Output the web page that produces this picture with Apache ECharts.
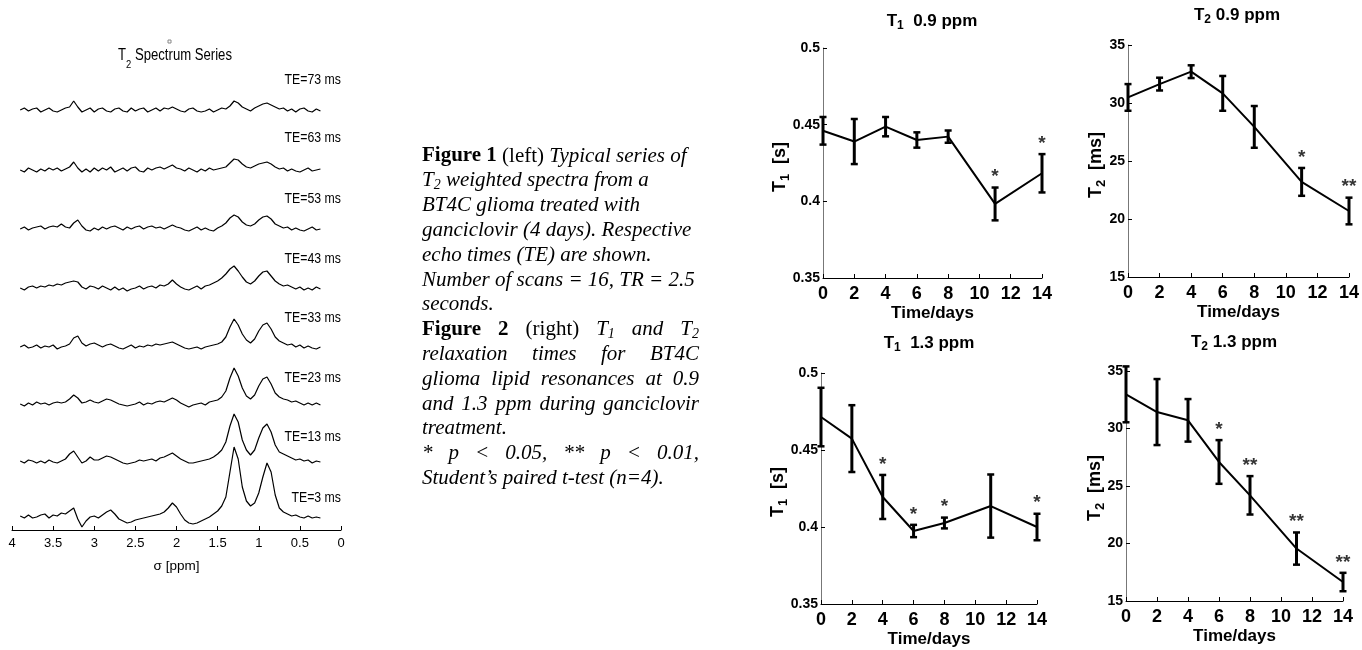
<!DOCTYPE html>
<html><head><meta charset="utf-8">
<script src="https://cdn.jsdelivr.net/npm/echarts@6/dist/echarts.min.js"></script>
<style>html,body{margin:0;padding:0;background:#fff}#c{width:1362px;height:650px}</style>
</head><body><div id="c"></div>
<script>
// ================= DATA =================
// Spectrum sample positions (ppm)
const ppm = [3.90,3.85,3.80,3.75,3.70,3.65,3.60,3.55,3.50,3.45,
 3.40,3.35,3.30,3.25,3.20,3.15,3.10,3.05,3.00,2.95,
 2.90,2.85,2.80,2.75,2.70,2.65,2.60,2.55,2.50,2.45,
 2.40,2.35,2.30,2.25,2.20,2.15,2.10,2.05,2.00,1.95,
 1.90,1.85,1.80,1.75,1.70,1.65,1.60,1.55,1.50,1.45,
 1.40,1.35,1.30,1.25,1.20,1.15,1.10,1.05,1.00,0.95,
 0.90,0.85,0.80,0.75,0.70,0.65,0.60,0.55,0.50,0.45,
 0.40,0.35,0.30,0.25];
const teLabels = ['TE=73 ms','TE=63 ms','TE=53 ms','TE=43 ms','TE=33 ms','TE=23 ms','TE=13 ms','TE=3 ms'];
// Signal intensity (arbitrary units, relative to each trace's baseline)
const spec73 = [0,2,-1,1,2,-2,0,2,-1,-2, 0,2,3,9,3,-2,0,2,-2,1, 2,-1,-2,1,2,-1,-2,2,-1,1, 2,-2,0,2,-1,2,1,3,1,-1,
 -2,1,2,-1,-2,-1,1,-2,0,2, 1,4,9,7,3,1,-1,2,4,6, 7,5,3,1,2,-1,1,-2,1,2, -1,-2,1,-1];
const spec63 = [0,-2,2,0,-2,1,-1,2,0,2, -1,1,3,8,2,-2,1,-2,2,-1, 2,0,3,-2,0,2,-1,2,3,-1, -2,2,0,2,3,1,3,5,2,1,
 -1,2,0,-2,1,-1,2,0,1,2, 3,7,11,10,6,3,2,4,6,7, 8,6,3,1,2,-1,1,-1,-2,0, 2,-1,0,1];
const spec53 = [0,2,-1,1,2,3,0,2,3,2, 5,2,1,6,9,3,-1,-2,1,-1, 2,0,2,3,1,-1,2,0,2,3, 0,2,3,1,2,0,2,4,2,1,
 -1,-2,0,2,-1,1,-1,-2,1,3, 6,11,14,12,7,4,3,5,9,12, 13,10,5,3,1,2,-1,1,-1,-2, 0,2,-1,0];
const spec43 = [0,-2,1,2,0,2,1,3,2,4, 3,5,6,7,6,1,-1,2,1,-1, 2,0,-2,1,-2,0,-3,-1,0,2, -1,1,2,0,3,2,4,8,4,1,
 -1,-2,0,2,-1,2,3,5,7,10, 14,19,22,17,11,6,4,7,12,16, 17,12,7,4,2,3,1,-1,1,-2, 0,-2,1,-1];
const spec33 = [0,2,-1,0,2,-1,1,0,2,-2, 0,1,3,9,11,4,1,3,4,2, 0,2,3,1,-1,-2,0,2,-1,1, 0,2,1,3,2,3,4,5,3,1,
 -1,-2,-1,0,-2,0,1,2,3,5, 10,20,28,22,13,7,4,8,16,22, 24,18,10,6,4,2,3,0,2,-1, 1,-1,-2,0];
const spec23 = [0,-2,1,-1,2,0,1,-1,1,2, 1,2,5,9,6,1,2,4,2,1, 3,5,4,2,0,-1,-2,-1,0,2, -1,1,0,2,3,2,4,6,4,1,
 -1,-3,-1,0,1,-1,2,3,4,7, 13,26,36,28,16,8,5,9,18,25, 27,20,11,7,5,4,2,3,1,-1, 1,-1,1,-1];
const spec13 = [1,-1,2,1,-1,1,-1,2,0,-1, 1,3,8,11,5,-1,1,5,2,2, 4,6,5,3,1,-1,-2,-1,0,2, 1,2,3,1,4,5,7,9,6,3,
 1,-1,-1,0,1,2,3,5,8,12, 20,36,48,40,22,12,7,12,24,34, 38,30,17,10,8,6,4,2,3,1, 2,-1,1,0];
const spec3 = [1,-1,2,-1,0,2,3,-1,2,1, 4,3,6,9,-2,-10,-4,0,1,-1, 2,5,7,3,-2,-4,-6,-5,-3,-2, -1,0,1,2,3,5,9,14,10,3,
 -3,-6,-7,-6,-4,-2,0,3,6,11, 20,45,70,58,30,16,11,14,24,40, 54,45,22,9,5,3,1,2,0,-1, 1,-1,0,-1];

// Relaxation times vs. time (days)
const days = [0,2,4,6,8,11,14];
const t1_09_mean = [0.446,0.439,0.4487,0.440,0.4422,0.3983,0.4183];
const t1_09_err  = [0.009,0.0147,0.0063,0.005,0.004,0.0107,0.0125];
const t1_09_sig  = ['','','','','','*','*'];
const t2_09_mean = [30.48,31.63,32.70,30.83,27.94,23.20,20.69];
const t2_09_err  = [1.15,0.55,0.55,1.5,1.8,1.2,1.15];
const t2_09_sig  = ['','','','','','*','**'];
const t1_13_mean = [0.4714,0.4574,0.4195,0.3974,0.4026,0.4136,0.4000];
const t1_13_err  = [0.019,0.0217,0.0143,0.004,0.0035,0.0205,0.0086];
const t1_13_sig  = ['','','*','*','*','','*'];
const t2_13_mean = [32.97,31.43,30.71,27.09,24.19,19.56,16.65];
const t2_13_err  = [2.43,2.87,1.85,1.9,1.67,1.4,0.8];
const t2_13_sig  = ['','','','*','**','**','**'];
const t1Ticks = {min:0.35, max:0.5, interval:0.05};
const t2Ticks = {min:15, max:35, interval:5};
const dayTicks = {min:0, max:14, interval:2};
const ppmTicks = {min:0, max:4, interval:0.5};

// Caption text
const captionLines = [
 {justify:false, runs:[['b','Figure 1'],['r',' (left) '],['i','Typical series of']]},
 {justify:false, runs:[['i','T'],['is','2'],['i',' weighted spectra from a']]},
 {justify:false, runs:[['i','BT4C glioma treated with']]},
 {justify:false, runs:[['i','ganciclovir (4 days). Respective']]},
 {justify:false, runs:[['i','echo times (TE) are shown.']]},
 {justify:false, runs:[['i','Number of scans = 16, TR = 2.5']]},
 {justify:false, runs:[['i','seconds.']]},
 {justify:true, runs:[['b','Figure 2'],['r',' (right) '],['i','T'],['is','1'],['i',' and T'],['is','2']]},
 {justify:true, runs:[['i','relaxation times for BT4C']]},
 {justify:true, runs:[['i','glioma lipid resonances at 0.9']]},
 {justify:true, runs:[['i','and 1.3 ppm during ganciclovir']]},
 {justify:false, runs:[['i','treatment.']]},
 {justify:true, runs:[['i','* p < 0.05, ** p < 0.01,']]},
 {justify:false, runs:[['i','Student\u2019s paired t-test (n=4).']]}
];

// ================= LAYOUT / STYLE =================
const SANS = '"Liberation Sans", Arial, sans-serif';
const NARROW = '"Liberation Sans Narrow", "Arial Narrow", "Liberation Sans", sans-serif';
const SERIF = '"Liberation Serif", "Times New Roman", serif';
const spectra = [spec73, spec63, spec53, spec43, spec33, spec23, spec13, spec3];
const baseY = [110,170,229,288,347,404,462,517];
const teLabelY = [80,138,199,259,318,378,437,498];
const NARROW_SX = 0.82;

const mctx = document.createElement('canvas').getContext('2d');
function measure(t, f){ mctx.font = (f.style||'normal')+' '+(f.weight||'normal')+' '+f.size+'px '+f.family; return mctx.measureText(t).width; }
function textEl(t, x, y, f, align, sx){
  return {type:'text', x:x, y:y, scaleX:sx||1, silent:true, style:{text:t, fontSize:f.size, fontWeight:f.weight||'normal',
    fontStyle:f.style||'normal', fontFamily:f.family, fill:'#000', align:align||'left', verticalAlign:'middle',
    textAlign:align||'left', textVerticalAlign:'middle'}};
}
function runsGroup(runs, fonts, x, y, rot, sx){
  let w = 0; const ws = runs.map(r => { const m = measure(r[1], fonts[r[0]]); w += m; return m; });
  let cx = -w/2;
  const ch = runs.map((r,k) => { const f = fonts[r[0]]; const el = textEl(r[1], cx, f.dy||0, f); cx += ws[k]; return el; });
  return {type:'group', x:x, y:y, rotation:rot||0, scaleX:sx||1, children:ch};
}

const capFonts = {
  b:{size:21, weight:'bold', family:SERIF},
  r:{size:21, family:SERIF},
  i:{size:21, style:'italic', family:SERIF},
  is:{size:14, style:'italic', family:SERIF, dy:5}
};
const CAP_X = 422, CAP_W = 277, CAP_Y0 = 156, CAP_DY = 24.8;
function captionEls(){
  const els = [];
  captionLines.forEach((ln, li) => {
    const words = []; let cur = [];
    ln.runs.forEach(([st, txt]) => {
      txt.split(' ').forEach((p, idx) => {
        if (idx > 0 && cur.length) { words.push(cur); cur = []; }
        if (p) cur.push([st, p]);
      });
    });
    if (cur.length) words.push(cur);
    const wW = words.map(w => w.reduce((s,[st,t]) => s + measure(t, capFonts[st]), 0));
    const total = wW.reduce((a,b) => a+b, 0);
    const sp = measure(' ', capFonts.i);
    const gap = (ln.justify && words.length > 1) ? (CAP_W - total)/(words.length-1) : sp;
    let x = CAP_X; const y = CAP_Y0 + li*CAP_DY;
    words.forEach((w, wi) => {
      let px = x;
      w.forEach(([st,t]) => { const f = capFonts[st]; els.push(textEl(t, px, y + (f.dy||0), f)); px += measure(t, f); });
      x += wW[wi] + gap;
    });
  });
  return els;
}

const grids = [], xAxes = [], yAxes = [], series = [];
// ---- Spectra stack ----
spectra.forEach((sp, i) => {
  grids.push({left:12, width:329, top:baseY[i]-87, height:100});
  const last = i === spectra.length - 1;
  xAxes.push(last ? {
    gridIndex:i, type:'value', min:ppmTicks.min, max:ppmTicks.max, interval:ppmTicks.interval, inverse:true,
    axisLine:{show:true, onZero:false, lineStyle:{color:'#000', width:1}},
    axisTick:{show:true, inside:true, length:4, lineStyle:{color:'#000'}},
    axisLabel:{fontFamily:NARROW, fontSize:13, color:'#000', margin:7},
    splitLine:{show:false},
    name:'σ [ppm]', nameLocation:'middle', nameGap:29,
    nameTextStyle:{fontFamily:NARROW, fontSize:13.5, color:'#000'}
  } : {gridIndex:i, type:'value', min:ppmTicks.min, max:ppmTicks.max, inverse:true, show:false});
  yAxes.push({gridIndex:i, type:'value', min:-13, max:87, show:false});
  series.push({type:'line', xAxisIndex:i, yAxisIndex:i, data:ppm.map((p,k) => [p, sp[k]]),
    symbol:'none', clip:false, silent:true, lineStyle:{color:'#000', width:1.2}});
});

// ---- Relaxation panels ----
const panels = [
  {mean:t1_09_mean, err:t1_09_err, sig:t1_09_sig, ticks:t1Ticks, title:[['t','T'],['s','1'],['t','  0.9 ppm']], yName:[['t','T'],['s','1'],['t','  [s]']]},
  {mean:t2_09_mean, err:t2_09_err, sig:t2_09_sig, ticks:t2Ticks, title:[['t','T'],['s','2'],['t',' 0.9 ppm']], yName:[['t','T'],['s','2'],['t','  [ms]']]},
  {mean:t1_13_mean, err:t1_13_err, sig:t1_13_sig, ticks:t1Ticks, title:[['t','T'],['s','1'],['t','  1.3 ppm']], yName:[['t','T'],['s','1'],['t','  [s]']]},
  {mean:t2_13_mean, err:t2_13_err, sig:t2_13_sig, ticks:t2Ticks, title:[['t','T'],['s','2'],['t',' 1.3 ppm']], yName:[['t','T'],['s','2'],['t','  [ms]']]}
];
const panelLayout = [
  {left:823, top:48, width:219, height:230, tx:932, ty:21, nx:780, ny:167},
  {left:1128, top:45, width:221, height:232, tx:1237, ty:15, nx:1096, ny:165},
  {left:821, top:373, width:216, height:231, tx:929, ty:343, nx:778, ny:492},
  {left:1126, top:371, width:217, height:230, tx:1234, ty:342, nx:1095, ny:488}
];
const titleFonts = {t:{size:17, weight:'bold', family:SANS}, s:{size:12, weight:'bold', family:SANS, dy:5}};
const nameFonts = {t:{size:18, weight:'bold', family:SANS}, s:{size:13, weight:'bold', family:SANS, dy:5}};

function renderErr(params, api){
  const x = api.value(0), lo = api.value(1), hi = api.value(2);
  const a = api.coord([x, lo]), b = api.coord([x, hi]); const w = 3.5;
  return {type:'group', children:[
    {type:'line', shape:{x1:a[0], y1:a[1], x2:b[0], y2:b[1]}, style:{stroke:'#000', lineWidth:3}},
    {type:'line', shape:{x1:b[0]-w, y1:b[1], x2:b[0]+w, y2:b[1]}, style:{stroke:'#000', lineWidth:2.5}},
    {type:'line', shape:{x1:a[0]-w, y1:a[1], x2:a[0]+w, y2:a[1]}, style:{stroke:'#000', lineWidth:2.5}}
  ]};
}

const graphics = [];
panels.forEach((p, k) => {
  const gi = spectra.length + k; const L = panelLayout[k];
  grids.push({left:L.left, top:L.top, width:L.width, height:L.height});
  xAxes.push({gridIndex:gi, type:'value', min:dayTicks.min, max:dayTicks.max, interval:dayTicks.interval,
    axisLine:{show:true, onZero:false, lineStyle:{color:'#000', width:1}},
    axisTick:{show:true, inside:true, length:4, lineStyle:{color:'#000'}},
    axisLabel:{fontFamily:SANS, fontWeight:'bold', fontSize:18, color:'#000', margin:7},
    splitLine:{show:false},
    name:'Time/days', nameLocation:'middle', nameGap:27,
    nameTextStyle:{fontFamily:SANS, fontWeight:'bold', fontSize:17, color:'#000'}});
  yAxes.push({gridIndex:gi, type:'value', min:p.ticks.min, max:p.ticks.max, interval:p.ticks.interval,
    axisLine:{show:true, lineStyle:{color:'#777', width:1}},
    axisTick:{show:true, inside:true, length:4, lineStyle:{color:'#000'}},
    axisLabel:{fontFamily:SANS, fontWeight:'bold', fontSize:14, color:'#000', margin:3},
    splitLine:{show:false}});
  series.push({type:'line', xAxisIndex:gi, yAxisIndex:gi, data:days.map((d,i) => [d, p.mean[i]]),
    symbol:'none', silent:true, lineStyle:{color:'#000', width:2}});
  series.push({type:'custom', xAxisIndex:gi, yAxisIndex:gi, renderItem:renderErr, clip:false, silent:true,
    encode:{x:0, y:[1,2]}, data:days.map((d,i) => [d, p.mean[i]-p.err[i], p.mean[i]+p.err[i]])});
  series.push({type:'scatter', xAxisIndex:gi, yAxisIndex:gi, symbolSize:0, silent:true,
    data:days.map((d,i) => [d, p.mean[i]+p.err[i], p.sig[i]]).filter(v => v[2]),
    label:{show:true, position:'top', distance:1, formatter:q => q.value[2],
      fontFamily:SANS, fontWeight:'bold', fontSize:19, color:'#000'}});
  graphics.push(runsGroup(p.title, titleFonts, L.tx, L.ty));
  graphics.push(runsGroup(p.yName, nameFonts, L.nx, L.ny, Math.PI/2));
});

// Spectrum panel texts
const leftTitleFonts = {t:{size:16, family:NARROW}, s:{size:11.5, family:NARROW, dy:9}};
graphics.push(runsGroup([['t','T'],['s','2'],['t',' Spectrum Series']], leftTitleFonts, 175, 56, 0, NARROW_SX));
graphics.push({type:'rect', silent:true, shape:{x:168, y:40, width:3, height:3}, style:{fill:'none', stroke:'#888', lineWidth:1}});
teLabels.forEach((t, i) => graphics.push(textEl(t, 341, teLabelY[i], {size:15, family:NARROW}, 'right', NARROW_SX)));
captionEls().forEach(e => graphics.push(e));

const chart = echarts.init(document.getElementById('c'), null, {renderer:'canvas'});
chart.setOption({
  animation:false, backgroundColor:'#fff',
  grid:grids, xAxis:xAxes, yAxis:yAxes, series:series, graphic:graphics
});
</script></body></html>
